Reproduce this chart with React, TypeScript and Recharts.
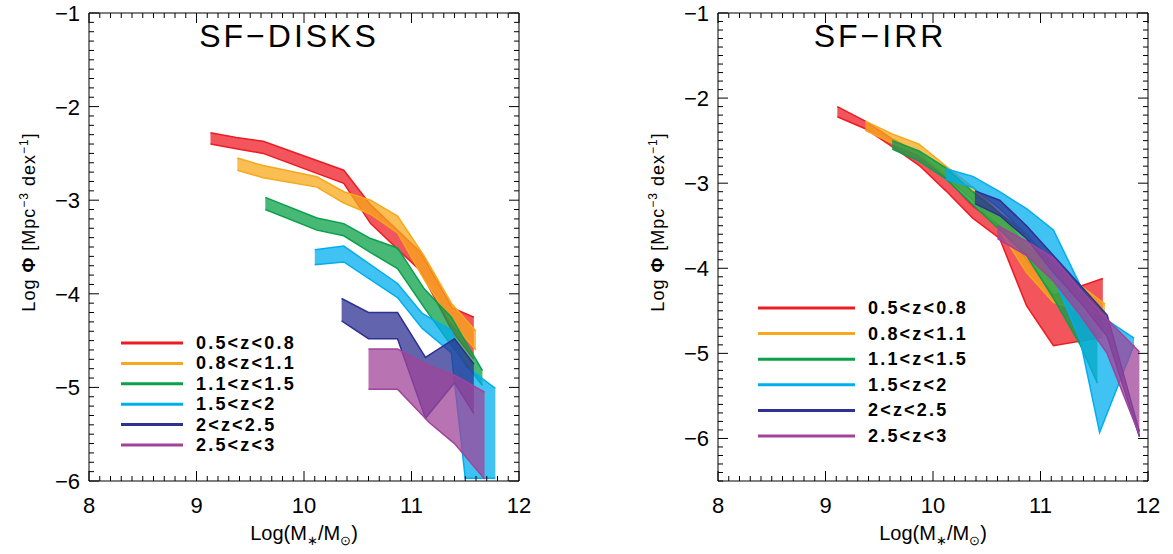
import React from "react";
import { ComposedChart, Area, XAxis, YAxis } from "recharts";

// redshift bins, legend order
const zBins = ["0.5<z<0.8", "0.8<z<1.1", "1.1<z<1.5", "1.5<z<2", "2<z<2.5", "2.5<z<3"];
const binColors = ["#ED1C24", "#F7A81B", "#0BA04A", "#00AEEF", "#2E3192", "#A0449A"];

// SF-DISKS: log mass, lower / upper log phi
const diskMass1 = [9.13, 9.37, 9.62, 10.37, 10.62, 11.08, 11.38, 11.58];
const diskHi1 = [-2.28, -2.33, -2.37, -2.68, -3.05, -3.55, -4.15, -4.25];
const diskLo1 = [-2.4, -2.45, -2.5, -2.82, -3.25, -3.75, -4.4, -4.7];

const diskMass2 = [9.38, 9.62, 10.12, 10.37, 10.62, 10.87, 11.12, 11.37, 11.6];
const diskHi2 = [-2.55, -2.63, -2.75, -2.91, -3.0, -3.17, -3.6, -4.1, -4.4];
const diskLo2 = [-2.68, -2.76, -2.86, -3.03, -3.15, -3.35, -3.85, -4.3, -4.6];

const diskMass3 = [9.64, 10.12, 10.37, 10.62, 10.87, 11.12, 11.37, 11.66];
const diskHi3 = [-2.97, -3.19, -3.25, -3.41, -3.51, -3.95, -4.25, -4.82];
const diskLo3 = [-3.1, -3.32, -3.38, -3.56, -3.73, -4.15, -4.55, -4.98];

const diskMass4 = [10.1, 10.37, 10.87, 11.1, 11.37, 11.5, 11.78];
const diskHi4 = [-3.53, -3.49, -3.89, -4.21, -4.39, -4.77, -5.01];
const diskLo4 = [-3.69, -3.66, -4.04, -4.37, -4.63, -5.97, -5.97];

const diskMass5 = [10.35, 10.6, 10.87, 11.13, 11.4, 11.58];
const diskHi5 = [-4.05, -4.2, -4.2, -4.68, -4.48, -4.75];
const diskLo5 = [-4.29, -4.48, -4.48, -5.33, -4.95, -5.28];

const diskMass6 = [10.6, 10.87, 11.17, 11.4, 11.68];
const diskHi6 = [-4.59, -4.59, -4.77, -4.87, -5.05];
const diskLo6 = [-5.02, -5.02, -5.38, -5.6, -5.98];

// SF-IRR
const irrMass1 = [9.11, 9.37, 9.62, 9.87, 10.12, 10.37, 10.62, 10.87, 11.12, 11.58];
const irrHi1 = [-2.1, -2.27, -2.48, -2.64, -2.94, -3.27, -3.5, -3.89, -4.32, -4.12];
const irrLo1 = [-2.22, -2.36, -2.57, -2.79, -3.09, -3.41, -3.65, -4.44, -4.91, -4.81];

const irrMass2 = [9.37, 9.62, 9.87, 10.12, 10.37, 10.62, 10.87, 11.12, 11.37, 11.6];
const irrHi2 = [-2.27, -2.42, -2.54, -2.8, -3.05, -3.35, -3.75, -3.95, -4.2, -4.42];
const irrLo2 = [-2.38, -2.53, -2.66, -2.92, -3.2, -3.55, -4.05, -4.4, -4.5, -4.55];

const irrMass3 = [9.62, 9.87, 10.12, 10.37, 10.62, 10.87, 11.12, 11.37, 11.53];
const irrHi3 = [-2.5, -2.62, -2.82, -3.1, -3.35, -3.6, -3.95, -4.45, -4.8];
const irrLo3 = [-2.6, -2.74, -2.95, -3.25, -3.55, -3.85, -4.35, -4.9, -5.35];

const irrMass4 = [10.12, 10.37, 10.62, 10.87, 11.12, 11.37, 11.55, 11.87];
const irrHi4 = [-2.83, -2.92, -3.1, -3.3, -3.55, -4.2, -4.55, -4.82];
const irrLo4 = [-2.95, -3.05, -3.3, -3.6, -4.1, -4.85, -5.93, -4.9];

const irrMass5 = [10.39, 10.62, 10.87, 11.12, 11.37, 11.62, 11.92];
const irrHi5 = [-3.09, -3.2, -3.5, -3.85, -4.2, -4.55, -5.92];
const irrLo5 = [-3.24, -3.38, -3.65, -4.05, -4.4, -4.8, -5.98];

const irrMass6 = [10.6, 10.87, 11.12, 11.37, 11.62, 11.92];
const irrHi6 = [-3.5, -3.68, -3.88, -4.25, -4.6, -4.98];
const irrLo6 = [-3.65, -3.85, -4.15, -4.55, -5.0, -5.96];

const massTicks = [8, 9, 10, 11, 12];
const phiTicks = [-6, -5, -4, -3, -2, -1];

const FONT = "'Liberation Sans', Arial, sans-serif";

const band = (mass: number[], lo: number[], hi: number[]) =>
  mass.map((x, i) => ({ x, range: [lo[i], hi[i]] }));

const diskBands = [
  band(diskMass1, diskLo1, diskHi1),
  band(diskMass2, diskLo2, diskHi2),
  band(diskMass3, diskLo3, diskHi3),
  band(diskMass4, diskLo4, diskHi4),
  band(diskMass5, diskLo5, diskHi5),
  band(diskMass6, diskLo6, diskHi6),
];
const irrBands = [
  band(irrMass1, irrLo1, irrHi1),
  band(irrMass2, irrLo2, irrHi2),
  band(irrMass3, irrLo3, irrHi3),
  band(irrMass4, irrLo4, irrHi4),
  band(irrMass5, irrLo5, irrHi5),
  band(irrMass6, irrLo6, irrHi6),
];

// minor ticks every 0.1
const steps = (from: number, to: number) => {
  const out: number[] = [];
  for (let v = Math.round(from * 10); v <= Math.round(to * 10); v++) out.push(v / 10);
  return out;
};

const isMajor = (v: number) => Math.abs(v - Math.round(v)) < 1e-6;
const fmt = (v: number) => (v < 0 ? "\u2212" + Math.abs(v) : String(v));

// IDL style ticks: pointing inwards, labels only on bottom / left
function Tick(props: any) {
  const { x, y, payload, side, labels } = props;
  const v = payload.value;
  const major = isMajor(v);
  const len = major ? 10 : 5;
  const show = major && labels.includes(Math.round(v));
  if (side === "bottom")
    return (
      <g>
        <line x1={x} y1={y} x2={x} y2={y - len} stroke="#000" />
        {show && (
          <text x={x} y={y + 32} textAnchor="middle" fontSize={22} fontFamily={FONT} fill="#000">
            {fmt(v)}
          </text>
        )}
      </g>
    );
  if (side === "top") return <line x1={x} y1={y} x2={x} y2={y + len} stroke="#000" />;
  if (side === "left")
    return (
      <g>
        <line x1={x} y1={y} x2={x + len} y2={y} stroke="#000" />
        {show && (
          <text x={x - 9} y={y + 8} textAnchor="end" fontSize={22} fontFamily={FONT} fill="#000">
            {fmt(v)}
          </text>
        )}
      </g>
    );
  return <line x1={x} y1={y} x2={x - len} y2={y} stroke="#000" />;
}

function Panel({ bands, yMin }: { bands: any[]; yMin: number }) {
  const xTicks = steps(8, 12);
  const yTicks = steps(yMin, -1);
  return (
    <ComposedChart width={544} height={554} margin={{ top: 12, right: 24, bottom: 0, left: 0 }}>
      <XAxis
        xAxisId="b"
        type="number"
        dataKey="x"
        domain={[8, 12]}
        ticks={xTicks}
        interval={0}
        height={73}
        tickSize={0}
        tickMargin={0}
        tickLine={false}
        axisLine={{ stroke: "#000" }}
        allowDataOverflow
        tick={(p: any) => <Tick {...p} side="bottom" labels={massTicks} />}
      />
      <XAxis
        xAxisId="t"
        orientation="top"
        type="number"
        dataKey="x"
        domain={[8, 12]}
        ticks={xTicks}
        interval={0}
        height={1}
        tickSize={0}
        tickMargin={0}
        tickLine={false}
        axisLine={{ stroke: "#000" }}
        allowDataOverflow
        tick={(p: any) => <Tick {...p} side="top" labels={massTicks} />}
      />
      <YAxis
        yAxisId="l"
        type="number"
        domain={[yMin, -1]}
        ticks={yTicks}
        interval={0}
        width={89}
        tickSize={0}
        tickMargin={0}
        tickLine={false}
        axisLine={{ stroke: "#000" }}
        allowDataOverflow
        tick={(p: any) => <Tick {...p} side="left" labels={phiTicks} />}
      />
      <YAxis
        yAxisId="r"
        orientation="right"
        type="number"
        domain={[yMin, -1]}
        ticks={yTicks}
        interval={0}
        width={1}
        tickSize={0}
        tickMargin={0}
        tickLine={false}
        axisLine={{ stroke: "#000" }}
        allowDataOverflow
        tick={(p: any) => <Tick {...p} side="right" labels={phiTicks} />}
      />
      {bands.map((d, i) => (
        <Area
          key={zBins[i]}
          name={zBins[i]}
          data={d}
          xAxisId="b"
          yAxisId="l"
          dataKey="range"
          type="linear"
          stroke={binColors[i]}
          strokeWidth={1.5}
          fill={binColors[i]}
          fillOpacity={0.75}
          dot={false}
          activeDot={false}
          isAnimationActive={false}
        />
      ))}
    </ComposedChart>
  );
}

function Labels({ dx, title, titleX, legendX, legendY, legendLen, legendGap }: any) {
  return (
    <g transform={`translate(${dx},0)`} fontFamily={FONT} fill="#000">
      <text x={titleX} y={47} fontSize={32} textAnchor="middle" letterSpacing={3}>
        {title}
      </text>
      <text x={304} y={540} fontSize={20} textAnchor="middle">
        Log(M<tspan fontSize={13} dy={5}>∗</tspan>
        <tspan dy={-5}>/M</tspan>
        <tspan fontSize={13} dy={5}>⊙</tspan>
        <tspan dy={-5}>)</tspan>
      </text>
      <text transform="translate(35,222) rotate(-90)" fontSize={18} textAnchor="middle" letterSpacing={1}>
        Log <tspan fontWeight="bold">Φ</tspan> [Mpc<tspan fontSize={12} dy={-7}>−3</tspan>
        <tspan dy={7}> dex</tspan>
        <tspan fontSize={12} dy={-7}>−1</tspan>
        <tspan dy={7}>]</tspan>
      </text>
      {zBins.map((z, i) => {
        const y = legendY + i * legendGap;
        return (
          <g key={z}>
            <line x1={legendX} x2={legendX + legendLen} y1={y} y2={y} stroke={binColors[i]} strokeWidth={3} />
            <text x={legendX + legendLen + 13} y={y + 6} fontSize={18} fontWeight="bold" letterSpacing={2.2}>
              {z}
            </text>
          </g>
        );
      })}
    </g>
  );
}

export default function App() {
  return (
    <div style={{ position: "absolute", left: 0, top: 0, width: 1173, height: 554, background: "#fff" }}>
      <div style={{ position: "absolute", left: 0, top: 0 }}>
        <Panel bands={diskBands} yMin={-6} />
      </div>
      <div style={{ position: "absolute", left: 629, top: 0 }}>
        <Panel bands={irrBands} yMin={-6.5} />
      </div>
      <svg width={1173} height={554} style={{ position: "absolute", left: 0, top: 0, pointerEvents: "none" }}>
        <Labels dx={0} title="SF−DISKS" titleX={289} legendX={121} legendY={343} legendLen={62} legendGap={20.4} />
        <Labels dx={629} title="SF−IRR" titleX={251} legendX={129} legendY={308} legendLen={97} legendGap={25.6} />
      </svg>
    </div>
  );
}
